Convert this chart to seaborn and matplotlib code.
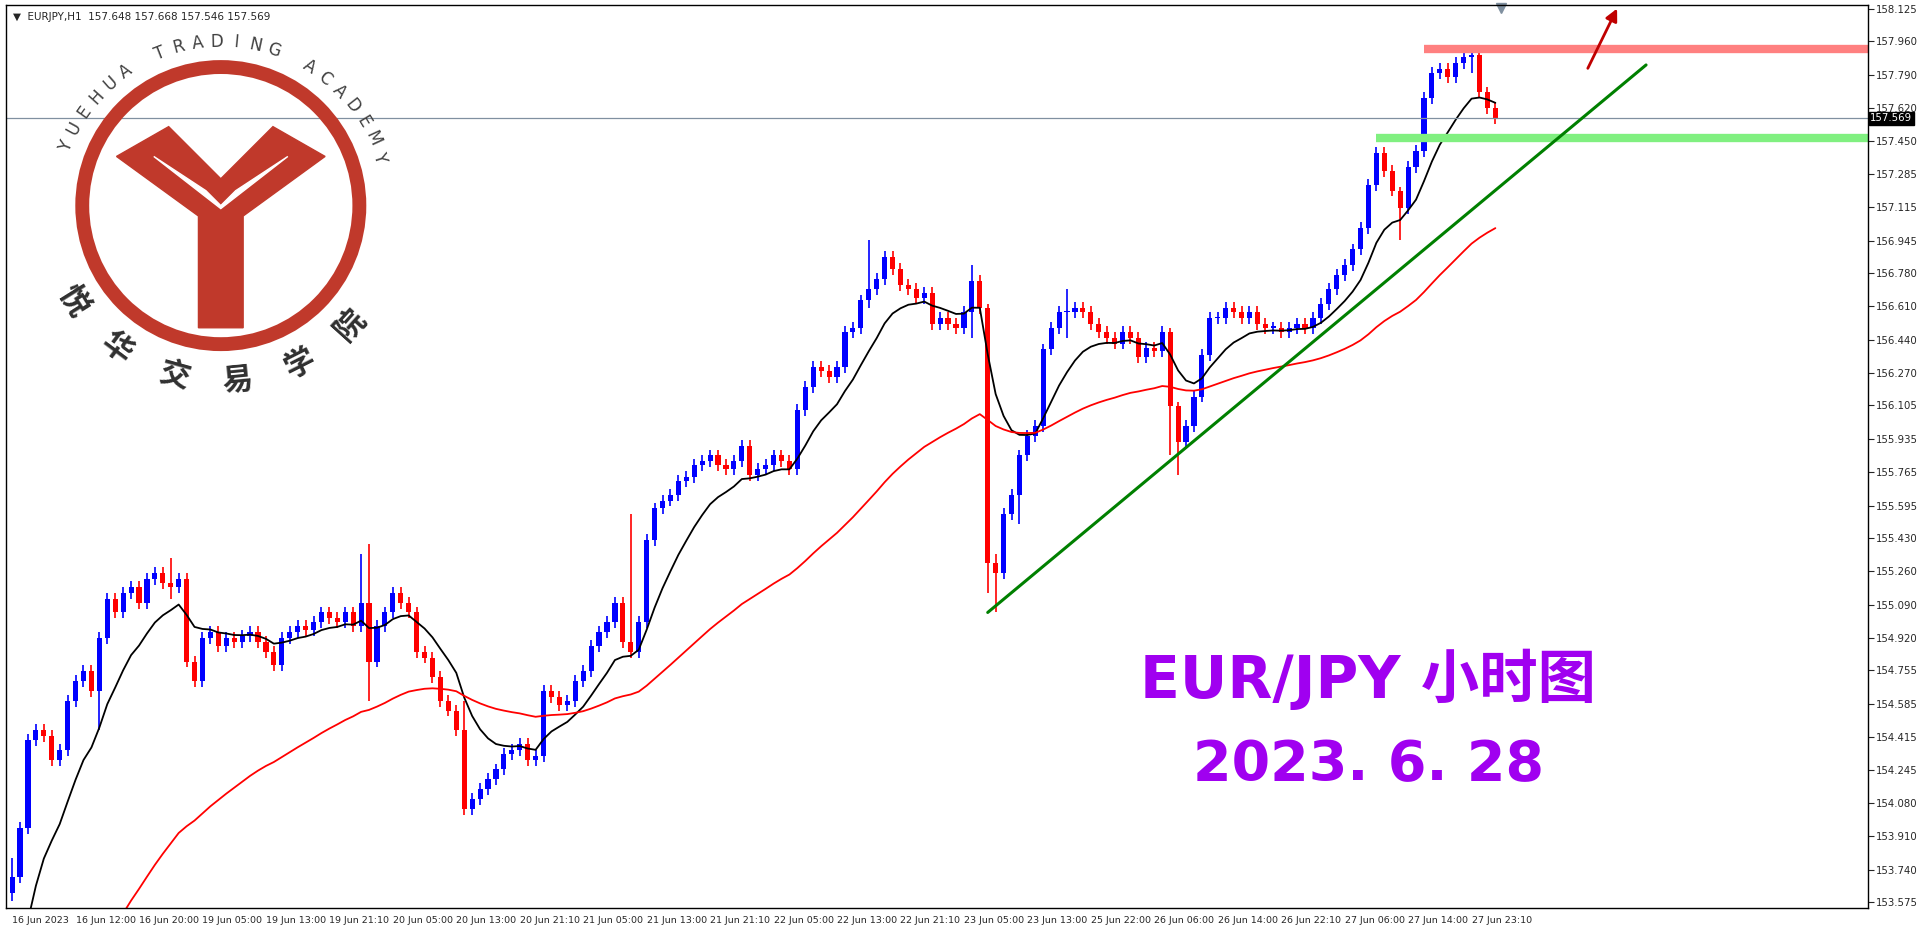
import numpy as np
import pandas as pd
import matplotlib
matplotlib.use("Agg")
import matplotlib.pyplot as plt
from matplotlib.patches import Circle, Polygon
import seaborn as sns

sns.set_style("white")
plt.rcParams['font.family'] = ['DejaVu Sans', 'Noto Sans CJK SC']

# hourly closes, bar 0 .. 187
closes = [
    153.70, 153.95, 154.40, 154.45, 154.42, 154.30, 154.35, 154.60, 154.70, 154.75,
    154.65, 154.92, 155.12, 155.05, 155.15, 155.18, 155.10, 155.22, 155.25, 155.20,
    155.18, 155.22, 154.80, 154.70, 154.92, 154.95, 154.88, 154.92, 154.90, 154.93,
    154.95, 154.90, 154.85, 154.78, 154.92, 154.95, 154.98, 154.96, 155.00, 155.05,
    155.02, 155.00, 155.05, 154.98, 155.10, 154.80, 154.98, 155.05, 155.15, 155.10,
    155.05, 154.85, 154.82, 154.72, 154.60, 154.55, 154.45, 154.05, 154.10, 154.15,
    154.20, 154.25, 154.33, 154.35, 154.38, 154.30, 154.32, 154.65, 154.62, 154.58,
    154.60, 154.70, 154.75, 154.88, 154.95, 155.00, 155.10, 154.90, 154.85, 155.00,
    155.42, 155.58, 155.62, 155.65, 155.72, 155.74, 155.80, 155.82, 155.85, 155.80,
    155.78, 155.82, 155.90, 155.75, 155.78, 155.80, 155.85, 155.82, 155.78, 156.08,
    156.20, 156.30, 156.28, 156.25, 156.30, 156.48, 156.50, 156.64, 156.70, 156.75,
    156.86, 156.80, 156.72, 156.70, 156.65, 156.68, 156.52, 156.55, 156.52, 156.50,
    156.58, 156.74, 156.60, 155.30, 155.25, 155.55, 155.65, 155.85, 155.95, 156.00,
    156.39, 156.50, 156.58, 156.58, 156.60, 156.58, 156.52, 156.48, 156.45, 156.42,
    156.48, 156.45, 156.35, 156.40, 156.38, 156.48, 156.10, 155.92, 156.00, 156.15,
    156.36, 156.55, 156.55, 156.60, 156.58, 156.55, 156.58, 156.52, 156.50, 156.50,
    156.48, 156.50, 156.52, 156.50, 156.55, 156.62, 156.70, 156.77, 156.82, 156.90,
    157.01, 157.23, 157.39, 157.30, 157.20, 157.11, 157.32, 157.40, 157.67, 157.80,
    157.82, 157.78, 157.85, 157.88, 157.89, 157.70, 157.62, 157.569,
]
first_open = 153.62
prior_close = 153.0      # history before the visible window (seeds the MAs)
prior_slow = 152.6
# notable wicks: bar -> (high, low)
wicks = {0: (153.80, 153.58), 11: (154.95, 154.45), 20: (155.33, 155.12),
         44: (155.35, 154.95), 45: (155.40, 154.60), 57: (154.60, 154.02),
         78: (155.55, 154.82), 108: (156.95, 156.60), 121: (156.82, 156.45),
         123: (156.62, 155.15), 124: (155.35, 155.05), 127: (155.88, 155.50),
         133: (156.70, 156.45), 146: (156.50, 155.85), 147: (156.12, 155.75),
         175: (157.22, 156.95), 184: (157.93, 157.80)}

xtick_labels = ['16 Jun 2023', '16 Jun 12:00', '16 Jun 20:00', '19 Jun 05:00', '19 Jun 13:00',
                '19 Jun 21:10', '20 Jun 05:00', '20 Jun 13:00', '20 Jun 21:10', '21 Jun 05:00',
                '21 Jun 13:00', '21 Jun 21:10', '22 Jun 05:00', '22 Jun 13:00', '22 Jun 21:10',
                '23 Jun 05:00', '23 Jun 13:00', '25 Jun 22:00', '26 Jun 06:00', '26 Jun 14:00',
                '26 Jun 22:10', '27 Jun 06:00', '27 Jun 14:00', '27 Jun 23:10']
ytick_values = [158.125, 157.960, 157.790, 157.620, 157.450, 157.285, 157.115, 156.945,
                156.780, 156.610, 156.440, 156.270, 156.105, 155.935, 155.765, 155.595,
                155.430, 155.260, 155.090, 154.920, 154.755, 154.585, 154.415, 154.245,
                154.080, 153.910, 153.740, 153.575]
last_price = 157.569
resistance = 157.92
support = 157.47

df = pd.DataFrame({'close': closes})
df['open'] = df['close'].shift(1).fillna(first_open)
df['high'] = df[['open', 'close']].max(axis=1) + 0.03
df['low'] = df[['open', 'close']].min(axis=1) - 0.03
for k, (h, l) in wicks.items():
    df.loc[k, 'high'] = h
    df.loc[k, 'low'] = l
df['bar'] = np.arange(len(df))

fast = pd.concat([pd.Series([prior_close]), df['close']]).ewm(span=10, adjust=False).mean().iloc[1:].values
slow = pd.concat([pd.Series([prior_slow]), df['close']]).ewm(span=50, adjust=False).mean().iloc[1:].values

fig = plt.figure(figsize=(19.2, 9.27), dpi=100)
ax = fig.add_axes([0.003, 0.0205, 0.970, 0.974])

up = df['close'] >= df['open']
colors = np.where(up, '#0000FF', '#FF0000')
ax.vlines(df['bar'], df['low'], df['high'], colors=colors, lw=1.2)
ax.bar(df['bar'], (df['close'] - df['open']).abs().clip(lower=0.008),
       bottom=df[['open', 'close']].min(axis=1), width=0.65, color=colors, lw=0)

ax.plot(df['bar'], fast, color='black', lw=1.3)
ax.plot(df['bar'], slow, color='#FF0000', lw=1.3)

ax.axhline(last_price, color='#8090A0', lw=0.9)
ax.hlines(resistance, 178, 240, color='#FF8080', lw=6)
ax.hlines(support, 172, 240, color='#80F080', lw=6)
ax.plot([123, 206], [155.05, 157.84], color='#008000', lw=2.2)
ax.annotate('', xy=(202.5, 158.14), xytext=(198.5, 157.81),
            arrowprops=dict(arrowstyle='-|>', color='#C00000', lw=2, mutation_scale=18))
ax.plot([187.7], [158.13], marker='v', color='#8090A0', ms=7, clip_on=False)

ax.set_xlim(-0.8, 234.0)
ax.set_ylim(153.544, 158.145)
ax.yaxis.tick_right()
ax.set_yticks(ytick_values)
ax.set_yticklabels([f'{v:.3f}' for v in ytick_values], fontsize=7.3)
ax.set_xticks(np.arange(len(xtick_labels)) * 8)
ax.set_xticklabels(xtick_labels, fontsize=6.8, ha='left')
ax.tick_params(axis='both', length=4, width=0.8, direction='out', pad=1.5)
for s in ax.spines.values():
    s.set_color('black')
    s.set_linewidth(1)
ax.text(1.001, last_price, f'{last_price:.3f}', transform=ax.get_yaxis_transform(),
        va='center', ha='left', fontsize=7.3, color='white',
        bbox=dict(boxstyle='square,pad=0.15', fc='black', ec='black'))

ax.text(0.004, 0.992, '▼  EURJPY,H1  157.648 157.668 157.546 157.569', transform=ax.transAxes,
        fontsize=7.5, va='top', ha='left')

ax.text(171, 154.71, 'EUR/JPY 小时图', color='#A000F0', fontsize=42, fontweight='bold',
        ha='center', va='center')
ax.text(171, 154.27, '2023. 6. 28', color='#A000F0', fontsize=40, fontweight='bold',
        ha='center', va='center')

# logo
lax = fig.add_axes([0.0, 0.55, 0.23, 0.45])
lax.set_xlim(-1.4, 1.4)
lax.set_ylim(-1.4, 1.4)
lax.set_aspect('equal')
lax.axis('off')
red = '#C0392B'
lax.add_patch(Circle((0, 0.02), 0.93, fill=False, ec=red, lw=10))
lax.add_patch(Polygon([(-0.7, 0.35), (-0.35, 0.55), (0, 0.2), (0.35, 0.55), (0.7, 0.35),
                       (0.15, -0.05), (0.15, -0.8), (-0.15, -0.8), (-0.15, -0.05)],
                      closed=True, fc=red, ec=red))
lax.add_patch(Polygon([(-0.45, 0.35), (0, 0.0), (0.45, 0.35), (0.1, 0.12), (0, 0.02), (-0.1, 0.12)],
                      closed=True, fc='white', ec='white'))
title = 'YUEHUA TRADING ACADEMY'
angs = np.linspace(158, 18, len(title))
for ch, a in zip(title, angs):
    r = 1.12
    lax.text(r * np.cos(np.radians(a)), r * np.sin(np.radians(a)), ch, rotation=a - 90,
             ha='center', va='center', fontsize=12, color='#404040')
cn = '悦华交易学院'
angs = np.linspace(212, 318, len(cn))
for ch, a in zip(cn, angs):
    r = 1.17
    lax.text(r * np.cos(np.radians(a)), r * np.sin(np.radians(a)), ch, rotation=a + 90,
             ha='center', va='center', fontsize=22, fontweight='bold', color='#303030')

fig.savefig('out.png', dpi=100, facecolor='white')
